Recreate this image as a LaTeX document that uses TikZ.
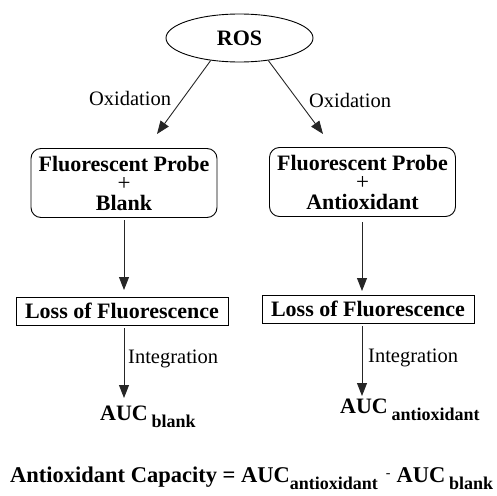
\documentclass[tikz,border=0pt]{standalone}
\usepackage{fontspec}
\setmainfont{Liberation Serif}
\usetikzlibrary{shapes.geometric,arrows.meta}
\newcommand\subtx[1]{\raisebox{-7.5pt}{\fontsize{18}{18}\selectfont #1}}
\newcommand\plustx{{\mdseries\fontsize{23}{19.5}\selectfont +}}
\tikzset{
  x=1pt,y=-1pt,
  bigb/.style={font=\fontsize{22}{19.5}\selectfont\bfseries},
  lbl/.style={font=\fontsize{20.5}{22}\selectfont, inner sep=0pt},
  arr/.style={draw=black!85, line width=0.9pt, -{Triangle[length=13pt,width=10pt]}},
  probebox/.style={draw, line width=0.9pt, rounded corners=10pt, align=center, inner sep=0pt, minimum width=186pt, minimum height=69pt, bigb},
  lossbox/.style={draw, line width=0.9pt, inner sep=0pt, minimum width=212pt, minimum height=28pt, bigb},
  auc/.style={inner sep=0pt, font=\fontsize{22}{22}\selectfont\bfseries}
}
\begin{document}
\begin{tikzpicture}
\useasboundingbox (0,0) rectangle (497,495);
\node[draw, ellipse, line width=0.9pt, minimum width=147pt, minimum height=48pt, inner sep=0pt, bigb] (ros) at (239.5,38) {ROS};

\node[probebox] (p1) at (124,183) {Fluorescent Probe\\\plustx\\Blank};
\node[probebox] (p2) at (362.5,182) {Fluorescent Probe\\\plustx\\Antioxidant};

\node[lossbox] (l1) at (122,311) {Loss of Fluorescence};
\node[lossbox] (l2) at (368,309) {Loss of Fluorescence};

\coordinate (t1) at (157,134);
\coordinate (t2) at (323,134);
\draw[arr] (ros.218) -- (t1);
\draw[arr] (ros.322) -- (t2);
\node[lbl] (ox1) at (130,98) {Oxidation};
\node[lbl] (ox2) at (350,100) {Oxidation};

\coordinate (s1) at (124,220);
\coordinate (e1) at (124,290);
\coordinate (s2) at (362,222);
\coordinate (e2) at (362,291);
\draw[arr] (s1) -- (e1);
\draw[arr] (s2) -- (e2);

\coordinate (s3) at (124,328);
\coordinate (e3) at (124,398);
\coordinate (s4) at (362,326);
\coordinate (e4) at (362,396);
\draw[arr] (s3) -- (e3);
\draw[arr] (s4) -- (e4);
\node[lbl, anchor=west] (in1) at (128,359) {Integration};
\node[lbl, anchor=west] (in2) at (368,358) {Integration};

\node[auc, anchor=base west] (a1) at (100,420) {AUC\,\subtx{blank}};
\node[auc, anchor=base west] (a2) at (340,413) {AUC\,\subtx{antioxidant}};

\node[auc, anchor=base west, font=\fontsize{22.5}{22}\selectfont\bfseries] (cap) at (10,482) {Antioxidant Capacity = AUC\subtx{antioxidant}\hspace{8pt}\raisebox{5pt}{\mdseries\fontsize{14}{14}\selectfont -}\hspace{6pt}AUC\,\subtx{blank}};
\end{tikzpicture}
\end{document}
